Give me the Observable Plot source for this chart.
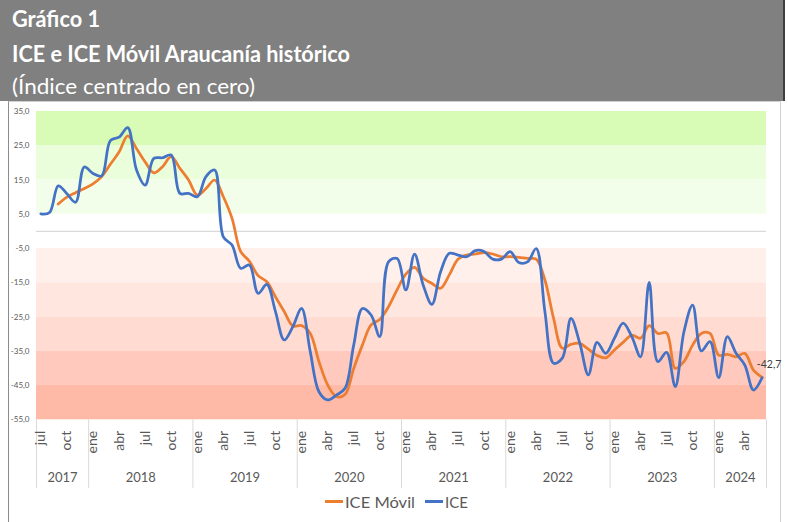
<!DOCTYPE html>
<html>
<head>
<meta charset="utf-8">
<script src="https://cdn.jsdelivr.net/npm/d3@7"></script>
<script src="https://cdn.jsdelivr.net/npm/@observablehq/plot@0.6"></script>
<style>
  body { margin: 0; background: #fff; }
  #wrap { position: relative; width: 788px; height: 522px; overflow: hidden; font-family: Lato, "Open Sans", sans-serif; }
  #header { position: absolute; left: 0; top: 0; width: 783px; height: 101px; background: #808080; border-right: 2px solid #3f3f3f; }
  .t { position: absolute; left: 12px; color: #fff; white-space: nowrap; transform-origin: 0 0; line-height: 1; font-size: 22px; }
  #panel { position: absolute; left: 8px; top: 101px; width: 773px; height: 421px; border-left: 1px solid #8c8c8c; border-right: 1px solid #d0d0d0; border-top: 1px solid #d0d0d0; box-sizing: border-box; }
  #chart { position: absolute; left: 0; top: 101px; }
  .lg { position: absolute; white-space: nowrap; transform-origin: 0 0; line-height: 1; font-size: 16px; color: #595959; }
  .sw { position: absolute; height: 3px; width: 18px; }
</style>
</head>
<body>
<div id="wrap">
  <div id="header">
    <span class="t" id="t1" style="top:7.5px;font-weight:700">Gráfico 1</span>
    <span class="t" id="t2" style="top:42.5px;font-weight:700">ICE e ICE Móvil Araucanía histórico</span>
    <span class="t" id="t3" style="top:74.5px;font-weight:400">(Índice centrado en cero)</span>
  </div>
  <div id="panel"></div>
  <div id="chart"></div>
  <div class="sw" style="left:325px;top:500px;background:#ED7D31"></div>
  <span class="lg" id="l1" style="left:345px;top:494px">ICE Móvil</span>
  <div class="sw" style="left:425px;top:500px;background:#4472C4"></div>
  <span class="lg" id="l2" style="left:445px;top:494px">ICE</span>
</div>
<script>
// ---- Data ----
const years = ["2017", "2018", "2019", "2020", "2021", "2022", "2023", "2024"];
const monthNames = ["ene", "feb", "mar", "abr", "may", "jun", "jul", "ago", "sep", "oct", "nov", "dic"];
const tickMonths = ["ene", "abr", "jul", "oct"];
const yTicks = [35, 25, 15, 5, -5, -15, -25, -35, -45, -55];
const bands = [[25, 35], [15, 25], [5, 15], [-15, -5], [-25, -15], [-35, -25], [-45, -35], [-55, -45]];

// ICE, monthly jul 2017 .. jun 2024
const ice = [
  5.1, 5.5, 13.3, 11.0, 8.5, 18.8,
  16.9, 16.2, 26.5, 27.5, 30.3, 18.0, 13.5, 21.3, 21.5, 22.3, 11.1, 11.1,
  10.1, 16.0, 17.9, -1.6, -4.0, -10.8, -9.8, -18.1, -15.5, -23.4, -31.7, -27.8,
  -22.5, -35.1, -46.8, -49.2, -47.8, -45.8, -33.2, -22.5, -24.4, -30.7, -8.9, -7.9,
  -17.1, -6.6, -15.7, -21.3, -11.8, -6.4, -6.9, -7.4, -5.6, -5.9, -8.1, -8.1,
  -5.9, -9.1, -8.9, -5.0, -23.4, -38.5, -37.0, -25.4, -32.5, -41.9, -32.4, -35.6,
  -31.2, -26.8, -30.7, -36.6, -14.9, -38.0, -35.3, -45.3, -29.3, -21.5, -34.9, -32.2,
  -42.7, -30.7, -35.6, -39.0, -46.3, -42.7
];
// ICE Móvil, same months (starts sep 2017)
const iceMovil = [
  null, null, 8.0, 10.0, 11.3, 12.5,
  13.9, 16.0, 19.6, 23.2, 27.9, 24.2, 20.3, 17.1, 18.9, 21.8, 18.4, 15.0,
  10.6, 12.5, 15.0, 10.1, 3.8, -5.9, -8.7, -12.9, -14.7, -19.1, -23.4, -27.6,
  -27.5, -29.8, -38.0, -44.8, -48.2, -47.6, -40.0, -33.2, -27.3, -25.7, -22.0, -17.0,
  -12.5, -10.5, -13.7, -15.2, -16.6, -12.7, -8.1, -6.9, -6.6, -6.2, -6.6, -7.4,
  -7.4, -7.6, -7.9, -8.1, -14.2, -25.4, -34.1, -33.0, -32.7, -34.4, -36.2, -36.9,
  -34.6, -32.4, -30.3, -31.2, -27.5, -29.8, -29.6, -40.0, -38.0, -33.2, -29.8, -29.8,
  -36.1, -35.9, -36.6, -35.6, -40.5, -42.6
];

// ---- Build table (jul 2017 .. jun 2024) ----
const rows = [];
years.forEach(y => monthNames.forEach(m => {
  const key = y + "-" + m;
  if ((y === "2017" && monthNames.indexOf(m) < 6) || (y === "2024" && monthNames.indexOf(m) > 5)) return;
  rows.push({ year: y, month: m });
}));
rows.forEach((r, i) => { r.i = i; r.ice = ice[i]; r.mov = iceMovil[i]; });
const yearGroups = years.map(y => {
  const idx = rows.filter(r => r.year === y).map(r => r.i);
  return { year: y, first: d3.min(idx), last: d3.max(idx) };
});
const bounds = [...yearGroups.map(g => g.first - 0.5), yearGroups[yearGroups.length - 1].last + 0.5];
const fmt = v => v.toFixed(1).replace(".", ",");

const bandColors = ["#d8fcb6", "#eafedb", "#f3feea", "#fff0ec", "#ffe7e0", "#ffdbd2", "#ffcabd", "#ffbaa7"];
const N = rows.length;

const chart = Plot.plot({
  width: 788, height: 387,
  marginLeft: 36, marginRight: 22, marginTop: 10, marginBottom: 68.7,
  x: { domain: [-0.5, N - 0.5], axis: null },
  y: { domain: [-55, 35], axis: null },
  style: { fontFamily: "Lato, 'Open Sans', sans-serif", background: "transparent", overflow: "visible" },
  marks: [
    Plot.rect(bands, { x1: -0.5, x2: N - 0.5, y1: d => d[0], y2: d => d[1], fill: (d, i) => bandColors[i] }),
    Plot.ruleY([0], { stroke: "#d9d9d9", strokeWidth: 1.3 }),
    Plot.ruleX(bounds, { y1: -55, y2: -75, stroke: "#d9d9d9" }),
    Plot.text(yTicks, { x: -0.5, y: d => d, text: d => fmt(d), textAnchor: "end", dx: -7, fontSize: 8, fill: "#595959" }),
    Plot.text(rows.filter(r => tickMonths.includes(r.month)), {
      x: "i", y: -55, text: "month", rotate: -90, textAnchor: "end", dy: 11, fontSize: 14, fill: "#595959"
    }),
    Plot.text(yearGroups, { x: d => (d.first + d.last) / 2, y: -55, dy: 57.7, text: "year", fontSize: 13, fill: "#595959" }),
    Plot.line(rows.filter(r => r.mov != null), { x: "i", y: "mov", stroke: "#ED7D31", strokeWidth: 2.75, curve: "catmull-rom" }),
    Plot.line(rows, { x: "i", y: "ice", stroke: "#4472C4", strokeWidth: 2.75, curve: "catmull-rom" }),
    Plot.text([rows[N - 1]], { x: "i", y: "ice", text: d => fmt(d.ice), dx: 7, dy: -13, fontSize: 10.5, fill: "#404040" })
  ]
});
document.getElementById("chart").appendChild(chart);

// fit header/legend text widths
function fit(id, w) {
  const el = document.getElementById(id);
  const cw = el.getBoundingClientRect().width;
  if (cw > 0) el.style.transform = `scaleX(${w / cw})`;
}
fit("t1", 88); fit("t2", 338); fit("t3", 243);
fit("l1", 70); fit("l2", 23);
</script>
</body>
</html>
